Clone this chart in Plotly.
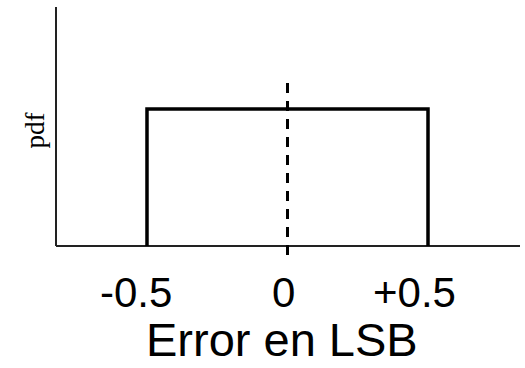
import plotly.graph_objects as go

# Data
pdf_x = [-0.5, -0.5, 0.5, 0.5]
pdf_y = [0, 1, 1, 0]
mean_x = [0, 0]
mean_y = [1.19, -0.117]
tick_vals = [-0.5, 0, 0.5]
tick_text = ["-0.5", "0", "+0.5"]
tick_shift = [-11, -4, -14]
x_axis_x = [-0.8238, 0.8274]
x_axis_y = [0, 0]
y_axis_x = [-0.8238, -0.8238]
y_axis_y = [0, 1.745]

fig = go.Figure()
fig.add_trace(go.Scatter(x=x_axis_x, y=x_axis_y, mode="lines",
                         line=dict(color="#222", width=2), hoverinfo="skip"))
fig.add_trace(go.Scatter(x=y_axis_x, y=y_axis_y, mode="lines",
                         line=dict(color="#222", width=2), hoverinfo="skip"))
fig.add_trace(go.Scatter(x=pdf_x, y=pdf_y, mode="lines",
                         line=dict(color="black", width=3.5), hoverinfo="skip"))
fig.add_trace(go.Scatter(x=mean_x, y=mean_y, mode="lines",
                         line=dict(color="black", width=3, dash="10px,8px"), hoverinfo="skip"))

for v, t, s in zip(tick_vals, tick_text, tick_shift):
    fig.add_annotation(x=v, y=-0.336, xref="x", yref="y", text=t, showarrow=False,
                       xshift=s, font=dict(family="Liberation Sans, Arial", size=42, color="black"),
                       xanchor="center", yanchor="middle")

fig.add_annotation(x=-0.02, y=-0.68, xref="x", yref="y", text="Error en LSB", showarrow=False,
                   font=dict(family="Liberation Sans, Arial", size=47, color="black"),
                   xanchor="center", yanchor="middle")
fig.add_annotation(x=-0.9, y=0.84, xref="x", yref="y", text="pdf", showarrow=False, textangle=-90,
                   font=dict(family="Liberation Serif, Times New Roman", size=27, color="black"),
                   xanchor="center", yanchor="middle")

fig.update_layout(
    width=525, height=368,
    margin=dict(l=0, r=0, t=0, b=0),
    paper_bgcolor="white", plot_bgcolor="white",
    showlegend=False,
    xaxis=dict(range=[-1.0231, 0.8452], visible=False, fixedrange=True),
    yaxis=dict(range=[-0.8905, 1.7956], visible=False, fixedrange=True),
)
fig.write_html("out.html", config={"displayModeBar": False},
               post_script="document.body.style.margin='0';document.body.style.overflow='hidden';")
